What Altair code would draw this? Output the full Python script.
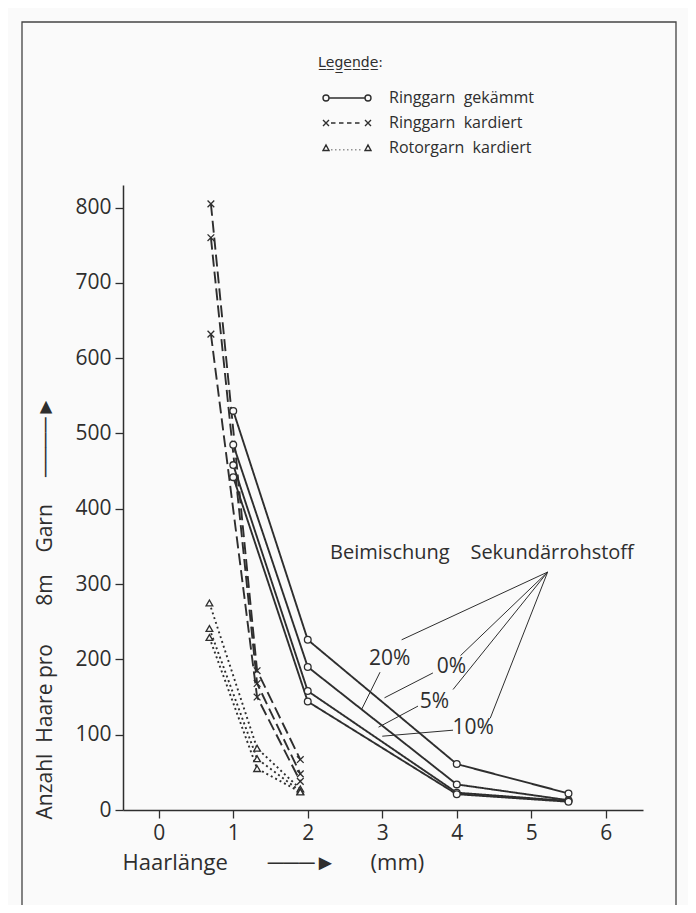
import altair as alt
import pandas as pd

INK = "#2e2e2e"
BG = "#fafafa"
FONT = "Open Sans"
NB = "\u00a0"

# ---- data ----
types = ["Ringgarn" + NB * 2 + "gekämmt", "Ringgarn" + NB * 2 + "kardiert", "Rotorgarn" + NB * 2 + "kardiert"]

gek_x = [1.0, 2.0, 4.0, 5.5]
gek_0 = [530, 226, 61, 22]
gek_20 = [485, 190, 34, 13]
gek_5 = [458, 158, 23, 12]
gek_10 = [442, 144, 21, 11]

kard_x = [0.7, 1.32, 1.9]
kard_a = [805, 185, 67]
kard_b = [760, 168, 48]
kard_c = [632, 150, 38]

rot_x = [0.68, 1.32, 1.9]
rot_a = [275, 82, 28]
rot_b = [241, 68, 25]
rot_c = [229, 55, 24]

x_ticks = [0, 0.5, 1, 1.5, 2, 2.5, 3, 3.5, 4, 4.5, 5, 5.5, 6]
y_ticks = list(range(0, 801, 50))

annot_labels = ["20%", "0%", "5%", "10%"]
annot_x = [3.10, 3.93, 3.70, 4.22]
annot_y = [201, 190, 143, 109]

# leader lines: from label to curve, and from caption to labels
lead_x1 = [2.97, 3.68, 3.48, 3.95, 5.22, 5.22, 5.22, 5.22]
lead_y1 = [183, 182, 138, 106, 316, 316, 316, 316]
lead_x2 = [2.72, 3.03, 2.95, 3.00, 3.26, 4.05, 3.95, 4.45]
lead_y2 = [133, 149, 110, 98, 226, 205, 160, 122]

caption = ["Beimischung" + NB * 4 + "Sekundärrohstoff"]
caption_x = [2.30]
caption_y = [341]

series = [
    ("g0", types[0], gek_x, gek_0),
    ("g20", types[0], gek_x, gek_20),
    ("g5", types[0], gek_x, gek_5),
    ("g10", types[0], gek_x, gek_10),
    ("ka", types[1], kard_x, kard_a),
    ("kb", types[1], kard_x, kard_b),
    ("kc", types[1], kard_x, kard_c),
    ("ra", types[2], rot_x, rot_a),
    ("rb", types[2], rot_x, rot_b),
    ("rc", types[2], rot_x, rot_c),
]
rows = []
for sid, t, xs, ys in series:
    for xv, yv in zip(xs, ys):
        rows.append({"series": sid, "type": t, "x": xv, "y": yv})
df = pd.DataFrame(rows)

annot_df = pd.DataFrame({"label": annot_labels, "x": annot_x, "y": annot_y})
lead_df = pd.DataFrame({"x": lead_x1, "y": lead_y1, "x2": lead_x2, "y2": lead_y2})
cap_df = pd.DataFrame({"label": caption, "x": caption_x, "y": caption_y})

xscale = alt.Scale(domain=[-0.48, 6.5], nice=False, zero=False)
yscale = alt.Scale(domain=[0, 830], nice=False)

x_axis = alt.Axis(
    values=x_ticks, format="d",
    labelExpr="datum.value % 1 === 0 ? datum.label : ''",
    tickSize={"condition": {"test": "datum.value % 1 === 0", "value": 8}, "value": 5},
    title="Haarlänge" + NB * 7 + "───►" + NB * 6 + "(mm)",
    titleX=-1, titleY=52, titleAlign="left", titleBaseline="middle", titleAnchor="start",
    titleFontSize=22, grid=False,
)
y_axis = alt.Axis(
    values=y_ticks, format="d",
    labelExpr="datum.value % 100 === 0 ? datum.label : ''",
    tickSize={"condition": {"test": "datum.value % 100 === 0", "value": 8}, "value": 5},
    title="Anzahl" + NB * 2 + "Haare" + NB + "pro" + NB * 7 + "8m" + NB * 4 + "Garn" + NB * 5 + "────►",
    titleX=-78, titleY=634, titleAngle=270, titleAlign="left", titleBaseline="middle",
    titleFontSize=21, grid=False,
)

X = alt.X("x:Q", scale=xscale, axis=x_axis)
Y = alt.Y("y:Q", scale=yscale, axis=y_axis)

frame = alt.Chart(pd.DataFrame({"k": [0]})).mark_rect(
    filled=False, stroke="#444", strokeWidth=1.3, fill=None
).encode(x=alt.value(-101), x2=alt.value(553), y=alt.value(-163), y2=alt.value(760))

lines = alt.Chart(df).mark_line(strokeWidth=1.9, color=INK).encode(
    x=X, y=Y, detail="series:N",
    strokeDash=alt.StrokeDash("type:N", scale=alt.Scale(domain=types, range=[[1, 0], [12, 5], [2, 3]]), legend=None),
)

points = alt.Chart(df).mark_point(filled=True, fill=BG, stroke=INK, strokeWidth=1.3, size=45, opacity=1).encode(
    x="x:Q", y="y:Q",
    shape=alt.Shape("type:N", scale=alt.Scale(domain=types, range=["circle", "M-1,-1L1,1M-1,1L1,-1", "triangle-up"]), legend=None),
)

# legend symbols: marker - line - marker, drawn as custom symbol paths
p_circ = ("M-4.8,0A0.6,0.6 0 1,0 -3.6,0A0.6,0.6 0 1,0 -4.8,0"
          "M-3.6,0L3.6,0"
          "M3.6,0A0.6,0.6 0 1,0 4.8,0A0.6,0.6 0 1,0 3.6,0")
p_cross = ("M-4.8,-0.6L-3.6,0.6M-4.8,0.6L-3.6,-0.6"
           "M-3.2,0L-2.3,0M-1.6,0L-0.7,0M0,0L0.9,0M1.6,0L2.5,0"
           "M3.6,-0.6L4.8,0.6M3.6,0.6L4.8,-0.6")
p_tri = ("M-4.8,0.5L-3.6,0.5L-4.2,-0.6Z"
         "M-3.1,0.35L-2.95,0.35M-2.3,0.35L-2.15,0.35M-1.5,0.35L-1.35,0.35M-0.7,0.35L-0.55,0.35"
         "M0.1,0.35L0.25,0.35M0.9,0.35L1.05,0.35M1.7,0.35L1.85,0.35M2.5,0.35L2.65,0.35"
         "M3.6,0.5L4.8,0.5L4.2,-0.6Z")

legend_layer = alt.Chart(df).mark_point(opacity=0, filled=False, color=INK).encode(
    x="x:Q", y="y:Q",
    shape=alt.Shape("type:N", scale=alt.Scale(domain=types, range=[p_circ, p_cross, p_tri]),
                    legend=alt.Legend(
                        title="L̲e̲g̲e̲n̲d̲e̲:", orient="none", legendX=195, legendY=-129,
                        titleFontSize=14, titleFont="DejaVu Sans", titleFontWeight="normal", titleColor=INK,
                        titlePadding=20, labelFontSize=16, labelFont=FONT, labelColor=INK,
                        symbolSize=100, symbolOpacity=1, symbolStrokeColor=INK,
                        symbolFillColor="transparent", symbolStrokeWidth=1.4,
                        symbolOffset=21, labelOffset=34, rowPadding=9, padding=0,
                    )),
)

annot = alt.Chart(annot_df).mark_text(fontSize=21, font=FONT, color=INK, align="center", baseline="middle").encode(
    x="x:Q", y="y:Q", text="label:N")
leads = alt.Chart(lead_df).mark_rule(strokeWidth=1, color=INK).encode(
    x="x:Q", y="y:Q", x2="x2:Q", y2="y2:Q")
cap = alt.Chart(cap_df).mark_text(fontSize=20, font=FONT, color=INK, align="left", baseline="middle").encode(
    x="x:Q", y="y:Q", text="label:N")

chart = alt.layer(frame, lines, points, legend_layer, leads, annot, cap).resolve_scale(
    shape="independent"
).properties(
    width=520, height=625,
    autosize=alt.AutoSizeParams(type="none"),
    padding={"left": 115, "top": 177, "right": 45, "bottom": 95},
    background=BG,
).configure_view(stroke=None).configure_axis(
    domainColor=INK, domainWidth=1.5, tickColor=INK, tickWidth=1.3,
    labelFont=FONT, labelFontSize=21, labelColor=INK, labelPadding=4,
    titleFont=FONT, titleFontSize=20, titleFontWeight="normal", titleColor=INK,
)

chart.save("out.html", embed_options={"renderer": "svg", "actions": False})
